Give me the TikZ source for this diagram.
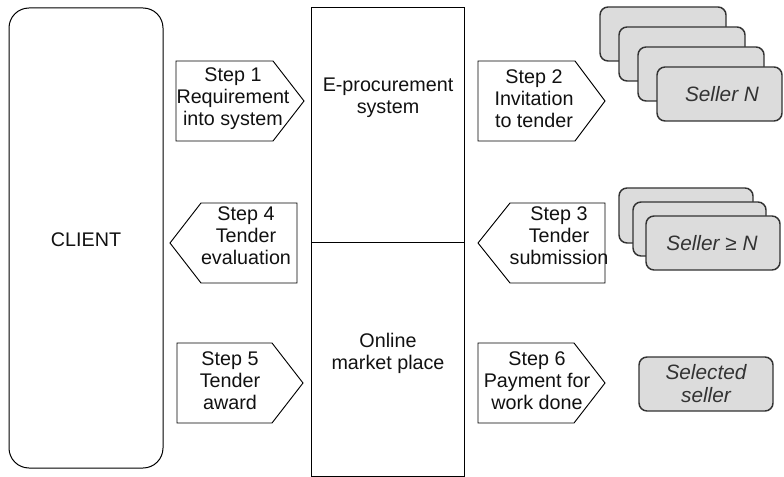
\documentclass[tikz,border=0pt]{standalone}
\usepackage{fontspec}
\setmainfont{Liberation Sans}
\definecolor{cardfill}{HTML}{DCDCDC}
\definecolor{cardline}{HTML}{333333}
\definecolor{txt}{HTML}{111111}
\tikzset{
  lbl/.style={align=center, font=\fontsize{14.8}{16.4}\selectfont, text=txt, inner sep=0pt},
  frame/.style={draw=black, line width=0.75pt},
  arrowbox/.style={draw=black, line width=0.7pt},
  card/.style={draw=cardline, fill=cardfill, line width=1.1pt, rounded corners=6pt},
  cardtxt/.style={align=center, font=\fontsize{15.6}{17.2}\selectfont\itshape, text=cardline, inner sep=0pt}
}
\begin{document}
\begin{tikzpicture}[x=0.75pt,y=-0.75pt]
\useasboundingbox (0,0) rectangle (784,477);
% client
\draw[frame, rounded corners=15pt] (9,8) rectangle (163,468);
\node[lbl] (client) at (86,240) {CLIENT};
% centre
\draw[frame] (311,8) rectangle (464,476.5);
\coordinate (divL) at (311,242);
\coordinate (divR) at (464,242);
\draw[frame] (divL) -- (divR);
\node[lbl] (eproc) at (388,98) {E-procurement\\system};
\node[lbl] (market) at (388,353) {Online\\market place};
% right-pointing step arrows
\draw[arrowbox] (176,61) -- (273,61) -- (304,101) -- (273,141) -- (176,141) -- cycle;
\node[lbl] (s1) at (233,99) {Step 1\\Requirement\\into system};
\draw[arrowbox] (478,61) -- (575,61) -- (605,101) -- (575,141) -- (478,141) -- cycle;
\node[lbl] (s2) at (534,99) {Step 2\\Invitation\\to tender};
\draw[arrowbox] (177,343) -- (272,343) -- (303,383) -- (272,423) -- (177,423) -- cycle;
\node[lbl] (s5) at (230,381) {Step 5\\Tender\\award};
\draw[arrowbox] (478,343) -- (574,343) -- (605,383) -- (574,423) -- (478,423) -- cycle;
\node[lbl] (s6) at (537,381) {Step 6\\Payment for\\work done};
% left-pointing step arrows
\draw[arrowbox] (297,203) -- (201,203) -- (170,243) -- (201,283) -- (297,283) -- cycle;
\node[lbl] (s4) at (246,236) {Step 4\\Tender\\evaluation};
\draw[arrowbox] (605,203) -- (510,203) -- (478,243) -- (510,283) -- (605,283) -- cycle;
\node[lbl] (s3) at (559,236) {Step 3\\Tender\\submission};
% seller stack N
\draw[card] (600,7) rectangle (726,61);
\draw[card] (619,27) rectangle (745,81);
\draw[card] (638,47) rectangle (764,101);
\draw[card] (657,67) rectangle (782,121);
\node[cardtxt] (sn) at (722,94) {Seller N};
% seller stack >= N
\draw[card] (619,188) rectangle (753,243);
\draw[card] (633,202) rectangle (766,256);
\draw[card] (646,216) rectangle (780,270);
\node[cardtxt] (sgn) at (712,243) {Seller ≥ N};
% selected seller
\draw[card] (639,357) rectangle (773,411);
\node[cardtxt] (sel) at (706,384) {Selected\\seller};
\end{tikzpicture}
\end{document}
